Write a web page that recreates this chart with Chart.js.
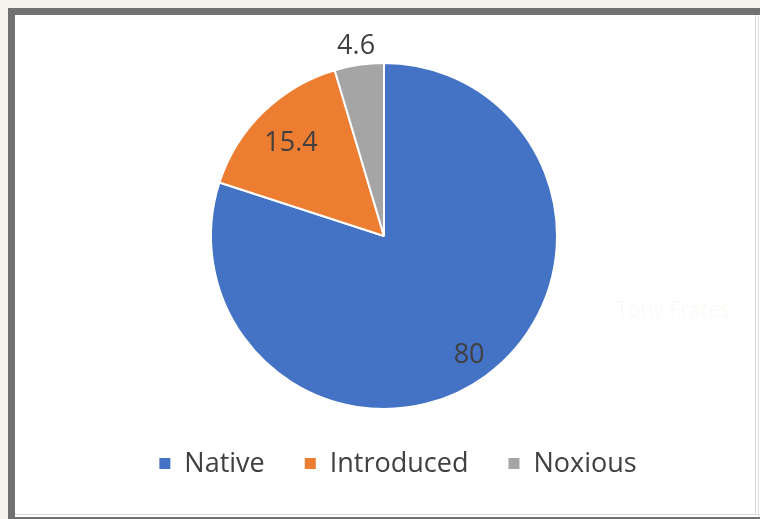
<!DOCTYPE html>
<html>
<head>
<meta charset="utf-8">
<script src="https://cdn.jsdelivr.net/npm/chart.js@4/dist/chart.umd.min.js"></script>
<style>
  html, body { margin: 0; padding: 0; width: 760px; height: 519px; overflow: hidden; background: #f5f4ef; }
  #frame { position: absolute; left: 8px; top: 8px; width: 752px; height: 511px; background: #717171; }
  #panel { position: absolute; left: 15px; top: 15px; width: 745px; height: 502px; background: #ffffff; }
  .rule { position: absolute; background: #d9d9d9; }
  #chart { position: absolute; left: 0; top: 0; }
</style>
</head>
<body>
<div id="frame"></div>
<div id="panel"></div>
<div class="rule" style="left:15px;top:514px;width:745px;height:1px;"></div>
<div class="rule" style="left:755px;top:15px;width:1px;height:500px;"></div>
<div class="rule" style="left:758px;top:15px;width:1px;height:502px;background:#e2e2e2;"></div>
<canvas id="chart" width="760" height="519"></canvas>
<script>
// Share of plant species by status (percent)
const categories = ['Native', 'Introduced', 'Noxious'];
const shares = [80, 15.4, 4.6];

const sliceColors = ['#4472C4', '#ED7D31', '#A5A5A5'];
const textColor = '#404040';
const fontFamily = '"Open Sans", "Noto Sans", sans-serif';

// Value labels: distance from the centre as a fraction of the radius
const labelRadius = [0.837, 0.77, 1.12];

const pieExtras = {
  id: 'pieExtras',
  afterDatasetsDraw(chart) {
    const ctx = chart.ctx;
    const meta = chart.getDatasetMeta(0);
    const values = chart.data.datasets[0].data;

    ctx.save();
    ctx.fillStyle = textColor;
    ctx.font = '27px ' + fontFamily;
    ctx.textAlign = 'center';
    ctx.textBaseline = 'alphabetic';
    meta.data.forEach((arc, i) => {
      const p = arc.getProps(['x', 'y', 'startAngle', 'endAngle', 'outerRadius'], true);
      const mid = (p.startAngle + p.endAngle) / 2;
      const r = p.outerRadius * labelRadius[i];
      const cx = p.x + Math.cos(mid) * r;
      const cy = p.y + Math.sin(mid) * r;
      ctx.fillText(String(values[i]), cx, cy + 10);
    });

    // Legend row
    const labels = chart.data.labels;
    const colors = chart.data.datasets[0].backgroundColor;
    const box = 11, boxGap = 14, itemGap = 40;
    ctx.textAlign = 'left';
    const widths = labels.map(t => ctx.measureText(t).width);
    const total = widths.reduce((a, w) => a + w + box + boxGap, 0) + itemGap * (labels.length - 1);
    let x = 398 - total / 2;
    const baseline = 472;
    labels.forEach((t, i) => {
      ctx.fillStyle = colors[i];
      ctx.fillRect(x, 458, box, box);
      x += box + boxGap;
      ctx.fillStyle = textColor;
      ctx.fillText(t, x, baseline);
      x += widths[i] + itemGap;
    });

    // Faint signature
    ctx.fillStyle = '#fbfaf6';
    ctx.font = '21px ' + fontFamily;
    ctx.textAlign = 'center';
    ctx.fillText('Tony Frates', 673, 317);
    ctx.restore();
  }
};

new Chart(document.getElementById('chart'), {
  type: 'pie',
  data: {
    labels: categories,
    datasets: [{
      data: shares,
      backgroundColor: sliceColors,
      borderColor: '#ffffff',
      borderWidth: 2
    }]
  },
  options: {
    responsive: false,
    animation: false,
    layout: { padding: { left: 210, right: 202, top: 62, bottom: 109 } },
    plugins: {
      legend: { display: false },
      tooltip: { enabled: false }
    }
  },
  plugins: [pieExtras]
});
</script>
</body>
</html>
